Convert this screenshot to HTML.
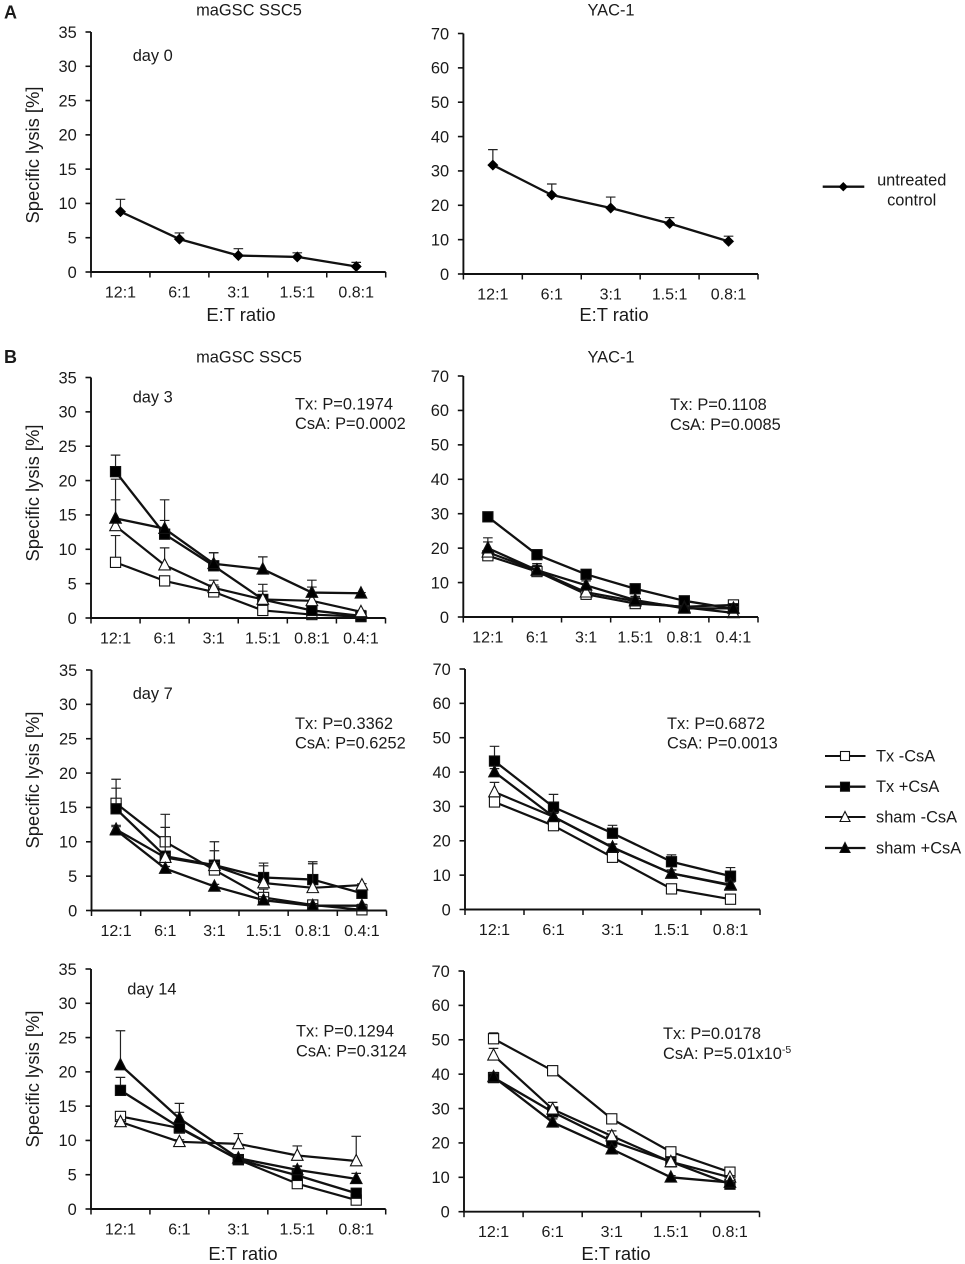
<!DOCTYPE html>
<html lang="en">
<head>
<meta charset="utf-8">
<title>Specific lysis by E:T ratio</title>
<style>
  html, body { margin: 0; padding: 0; background: #fff; }
  svg { display: block; filter: blur(0.35px); }
  text { font-family: "Liberation Sans", sans-serif; fill: #1a1a1a; }
  .label { font-size: 16.4px; }
  .title { font-size: 18.4px; }
  .letter { font-size: 18px; font-weight: bold; }
</style>
</head>
<body>
<svg id="figure" xmlns="http://www.w3.org/2000/svg" width="965" height="1264" viewBox="0 0 965 1264">
  <rect width="965" height="1264" fill="#fff"/>
  <text class="letter" x="4" y="18.5">A</text>
  <text class="letter" x="4" y="363">B</text>

  <text class="label" x="249" y="15.5" text-anchor="middle">maGSC SSC5</text>
  <text class="label" x="611" y="15.5" text-anchor="middle">YAC-1</text>
  <text class="label" x="249" y="362.5" text-anchor="middle">maGSC SSC5</text>
  <text class="label" x="611" y="362.5" text-anchor="middle">YAC-1</text>

  <text class="label" x="132.7" y="61">day 0</text>
  <text class="label" x="132.7" y="402.3">day 3</text>
  <text class="label" x="132.7" y="699">day 7</text>
  <text class="label" x="127.3" y="994.7">day 14</text>

  <text class="label" x="295" y="409.3">Tx: P=0.1974</text>
  <text class="label" x="295" y="429">CsA: P=0.0002</text>
  <text class="label" x="670" y="410">Tx: P=0.1108</text>
  <text class="label" x="670" y="430">CsA: P=0.0085</text>
  <text class="label" x="295" y="729">Tx: P=0.3362</text>
  <text class="label" x="295" y="748.7">CsA: P=0.6252</text>
  <text class="label" x="667" y="729">Tx: P=0.6872</text>
  <text class="label" x="667" y="748.7">CsA: P=0.0013</text>
  <text class="label" x="296" y="1036.7">Tx: P=0.1294</text>
  <text class="label" x="296" y="1056.7">CsA: P=0.3124</text>
  <text class="label" x="663" y="1039">Tx: P=0.0178</text>
  <text class="label" x="663" y="1059">CsA: P=5.01x10<tspan font-size="10.5" dy="-6">-5</tspan></text>

  <g>
    <line x1="822.7" y1="186.7" x2="864.3" y2="186.7" stroke="#111" stroke-width="2.3"/>
    <path d="M843.3 182 L848 186.7 L843.3 191.4 L838.6 186.7 Z" fill="#000"/>
    <text class="label" x="911.7" y="185.5" text-anchor="middle">untreated</text>
    <text class="label" x="911.7" y="205.5" text-anchor="middle">control</text>
  </g>
  <g>
    <line x1="825" y1="756" x2="865.5" y2="756" stroke="#111" stroke-width="2.1"/>
    <rect x="840.5" y="751.5" width="9" height="9" fill="#fff" stroke="#111" stroke-width="1.1"/>
    <text class="label" x="876" y="761.5">Tx -CsA</text>
  </g>
  <g>
    <line x1="825" y1="786.7" x2="865.5" y2="786.7" stroke="#111" stroke-width="2.3"/>
    <rect x="840.5" y="782.2" width="9" height="9" fill="#000" stroke="#111" stroke-width="1.1"/>
    <text class="label" x="876" y="792.2">Tx +CsA</text>
  </g>
  <g>
    <line x1="825" y1="817" x2="865.5" y2="817" stroke="#111" stroke-width="2.1"/>
    <path d="M845 811.5 L850 821.5 L840 821.5 Z" fill="#fff" stroke="#111" stroke-width="1.1"/>
    <text class="label" x="876" y="822.5">sham -CsA</text>
  </g>
  <g>
    <line x1="825" y1="848" x2="865.5" y2="848" stroke="#111" stroke-width="2.3"/>
    <path d="M845 842.5 L850 852.5 L840 852.5 Z" fill="#000" stroke="#111" stroke-width="1.1"/>
    <text class="label" x="876" y="853.5">sham +CsA</text>
  </g>
  <g id="panels"></g>
</svg>

<script>
// Categories and tick labels
const categories5 = ["12:1", "6:1", "3:1", "1.5:1", "0.8:1"];
const categories6 = ["12:1", "6:1", "3:1", "1.5:1", "0.8:1", "0.4:1"];
const ticksSsc = [0, 5, 10, 15, 20, 25, 30, 35];
const ticksYac = [0, 10, 20, 30, 40, 50, 60, 70];

// Day 0
const d0SscUntreated = [8.8, 4.8, 2.4, 2.2, 0.8];
const d0SscUntreatedErr = [1.8, 0.9, 1.0, 0.6, 0.6];
const d0YacUntreated = [31.7, 23, 19.2, 14.7, 9.5];
const d0YacUntreatedErr = [4.5, 3.2, 3.2, 1.7, 1.5];

// Day 3, maGSC SSC5
const d3SscTxNeg = [8.1, 5.4, 3.8, 1.1, 0.5, 0.2];
const d3SscTxNegErr = [3.9, 0.3, 1.0, 0.5, 0.3, 0.1];
const d3SscTxPos = [21.3, 12.2, 7.6, 2.7, 1.1, 0.3];
const d3SscTxPosErr = [2.4, 2.0, 1.9, 1.2, 0.5, 0.1];
const d3SscShamNeg = [13.4, 7.7, 4.4, 2.7, 2.5, 0.9];
const d3SscShamNegErr = [3.8, 2.5, 1.1, 2.2, 2.0, 0.2];
const d3SscShamPos = [14.5, 13, 7.9, 7.1, 3.7, 3.6];
const d3SscShamPosErr = [5.7, 4.2, 1.6, 1.8, 1.8, 0.1];

// Day 3, YAC-1
const d3YacTxNeg = [17.8, 13.2, 6.6, 3.9, 3, 3.5];
const d3YacTxNegErr = [1, 1, 0.5, 1, 0.5, 0.5];
const d3YacTxPos = [29.1, 18.1, 12.4, 8.2, 4.7, 2.4];
const d3YacTxPosErr = [0.3, 0.5, 0.5, 0.5, 0.5, 0.3];
const d3YacShamNeg = [18.8, 13.5, 7.2, 4.6, 2.8, 1.2];
const d3YacShamNegErr = [3, 1.5, 1, 1, 0.5, 0.3];
const d3YacShamPos = [20, 13.6, 9.2, 4.9, 2.5, 2.5];
const d3YacShamPosErr = [3, 1.9, 1.3, 1.1, 0.5, 0.5];

// Day 7, maGSC SSC5
const d7SscTxNeg = [15.6, 10, 5.9, 1.9, 0.8, 0.1];
const d7SscTxNegErr = [3.5, 4, 2.8, 1.2, 0.5, 0.2];
const d7SscTxPos = [14.8, 7.9, 6.6, 4.8, 4.5, 2.5];
const d7SscTxPosErr = [3, 4.2, 3.4, 2.1, 2.6, 0.3];
const d7SscShamNeg = [11.8, 7.7, 6.5, 4, 3.3, 3.7];
const d7SscShamNegErr = [0.6, 0.5, 0.5, 2.5, 3.5, 0.2];
const d7SscShamPos = [11.7, 6.1, 3.5, 1.5, 0.7, 0.7];
const d7SscShamPosErr = [0.5, 0.3, 0.3, 0.5, 0.3, 0.2];

// Day 7, YAC-1
const d7YacTxNeg = [31.3, 24.4, 15.2, 6, 3];
const d7YacTxNegErr = [1, 1, 0.8, 1, 0.5];
const d7YacTxPos = [43.2, 29.8, 22.2, 13.9, 9.7];
const d7YacTxPosErr = [4.3, 3.7, 2.3, 2, 2.5];
const d7YacShamNeg = [34.2, 27, 18, 10.5, 7];
const d7YacShamNegErr = [2.8, 1, 1, 1, 1];
const d7YacShamPos = [40, 27, 18.1, 10.5, 7.2];
const d7YacShamPosErr = [1, 1, 1, 1, 1];

// Day 14, maGSC SSC5
const d14SscTxNeg = [13.5, 11.8, 7.2, 3.7, 1.3];
const d14SscTxNegErr = [0.5, 0.5, 0.3, 0.3, 0.3];
const d14SscTxPos = [17.3, 11.9, 7.2, 4.9, 2.3];
const d14SscTxPosErr = [1.9, 2.2, 0.5, 1.3, 0.3];
const d14SscShamNeg = [12.7, 9.8, 9.5, 7.8, 7];
const d14SscShamNegErr = [0.3, 0.3, 1.5, 1.4, 3.6];
const d14SscShamPos = [21, 13.2, 7.4, 5.7, 4.4];
const d14SscShamPosErr = [5, 2.2, 0.3, 0.6, 0.8];

// Day 14, YAC-1
const d14YacTxNeg = [50.3, 41, 27, 17.4, 11.5];
const d14YacTxNegErr = [1.7, 1.2, 0.5, 0.5, 0.5];
const d14YacTxPos = [39, 29, 20.5, 14.5, 8];
const d14YacTxPosErr = [1.5, 1, 1, 0.7, 0.5];
const d14YacShamNeg = [45.5, 29.8, 22, 14.5, 10];
const d14YacShamNegErr = [2, 2, 1.5, 1, 0.5];
const d14YacShamPos = [39.2, 26, 18.2, 10, 8.5];
const d14YacShamPosErr = [1, 1, 0.5, 0.5, 0.5];

const SVG_NS = "http://www.w3.org/2000/svg";
const root = document.getElementById("panels");

function make(tag, attrs, parent) {
  const el = document.createElementNS(SVG_NS, tag);
  for (const k in attrs) el.setAttribute(k, attrs[k]);
  parent.appendChild(el);
  return el;
}

function fourSeries(a, aErr, b, bErr, c, cErr, d, dErr) {
  return [
    { key: "tx-minus-csa", marker: "square", fill: "#fff", width: 2.2, values: a, errors: aErr },
    { key: "tx-plus-csa", marker: "square", fill: "#000", width: 2.3, values: b, errors: bErr },
    { key: "sham-minus-csa", marker: "triangle", fill: "#fff", width: 2.2, values: c, errors: cErr },
    { key: "sham-plus-csa", marker: "triangle", fill: "#000", width: 2.3, values: d, errors: dErr }
  ];
}

function drawMarker(g, kind, fill, x, y) {
  const stroke = "#111";
  if (kind === "square") {
    return make("rect", { x: x - 5.1, y: y - 5.1, width: 10.2, height: 10.2, fill: fill, stroke: stroke, "stroke-width": 1.1 }, g);
  }
  if (kind === "triangle") {
    return make("path", { d: `M${x} ${y - 6.5} L${x + 5.8} ${y + 4.8} L${x - 5.8} ${y + 4.8} Z`, fill: fill, stroke: stroke, "stroke-width": 1.1 }, g);
  }
  return make("path", { d: `M${x} ${y - 5.3} L${x + 5.3} ${y} L${x} ${y + 5.3} L${x - 5.3} ${y} Z`, fill: fill, stroke: stroke, "stroke-width": 0.5 }, g);
}

function drawPanel(p) {
  const g = make("g", {}, root);
  
  

  const n = p.categories.length;
  const yMax = p.ticks[p.ticks.length - 1];
  const xScale = i => p.left + (i + 0.5) * (p.right - p.left) / n;
  const yScale = v => p.bottom - v * (p.bottom - p.top) / yMax;

  // Series
  p.series.forEach(s => {
    const sg = make("g", {}, g);
    
    
    s.values.forEach((v, i) => {
      const err = s.errors[i];
      if (err > 0) {
        const ex = xScale(i);
        const bar = make("path", {
          d: `M${ex} ${yScale(v)} V${yScale(v + err)} M${ex - 4.8} ${yScale(v + err)} H${ex + 4.8}`,
          fill: "none", stroke: "#222", "stroke-width": 1.2
        }, sg);
        
        
      }
    });
    const pts = s.values.map((v, i) => xScale(i) + "," + yScale(v)).join(" ");
    const line = make("polyline", { points: pts, fill: "none", stroke: "#111", "stroke-width": s.width, "stroke-linejoin": "round" }, sg);
    
    
    s.values.forEach((v, i) => {
      const mark = drawMarker(sg, s.marker, s.fill, xScale(i), yScale(v));
      
      
    });
  });

  // Y axis
  const yAxis = make("g", {}, g);
  
  
  make("line", { x1: p.left, y1: yScale(yMax), x2: p.left, y2: yScale(0), stroke: "#111", "stroke-width": 1.9 }, yAxis);
  p.ticks.forEach(t => {
    const y = yScale(t);
    make("line", { x1: p.left - 5.5, y1: y, x2: p.left, y2: y, stroke: "#111", "stroke-width": 1.6 }, yAxis);
    const tick = make("text", { class: "label", x: p.left - 14.3, y: y + 5.8, "text-anchor": "end" }, yAxis);
    tick.textContent = t;
    
    
  });

  // X axis
  const xAxis = make("g", {}, g);
  
  
  make("line", { x1: p.left - 1, y1: p.bottom, x2: p.right, y2: p.bottom, stroke: "#111", "stroke-width": 1.9 }, xAxis);
  for (let i = 0; i <= n; i++) {
    const tx = p.left + i * (p.right - p.left) / n;
    make("line", { x1: tx, y1: p.bottom, x2: tx, y2: p.bottom + 5.5, stroke: "#111", "stroke-width": 1.5 }, xAxis);
  }
  p.categories.forEach((c, i) => {
    const lab = make("text", { class: "label", x: xScale(i), y: p.bottom + 25.5, "text-anchor": "middle", style: "font-size:16px" }, xAxis);
    lab.textContent = c;
    
    
  });

  // Axis titles
  if (p.yTitleCenter) {
    const yt = make("text", { class: "title", "text-anchor": "middle", transform: `translate(39 ${p.yTitleCenter}) rotate(-90)` }, g);
    yt.textContent = "Specific lysis [%]";
    
    
  }
  if (p.xTitle) {
    const xt = make("text", { class: "title", "text-anchor": "middle", x: p.xTitle[0], y: p.xTitle[1] }, g);
    xt.textContent = "E:T ratio";
    
    
  }
}

const untreatedSsc = [{ key: "untreated", marker: "diamond", fill: "#000", width: 2.3, values: d0SscUntreated, errors: d0SscUntreatedErr }];
const untreatedYac = [{ key: "untreated", marker: "diamond", fill: "#000", width: 2.3, values: d0YacUntreated, errors: d0YacUntreatedErr }];

[
  { name: "chart-day0-ssc5", left: 91, right: 385.7, top: 32, bottom: 272, categories: categories5, ticks: ticksSsc, yTitleCenter: 155, xTitle: [241, 321], series: untreatedSsc },
  { name: "chart-day0-yac1", left: 463.4, right: 758, top: 33.5, bottom: 274, categories: categories5, ticks: ticksYac, xTitle: [614, 321], series: untreatedYac },
  { name: "chart-day3-ssc5", left: 91, right: 385.5, top: 377.5, bottom: 618, categories: categories6, ticks: ticksSsc, yTitleCenter: 493, series: fourSeries(d3SscTxNeg, d3SscTxNegErr, d3SscTxPos, d3SscTxPosErr, d3SscShamNeg, d3SscShamNegErr, d3SscShamPos, d3SscShamPosErr) },
  { name: "chart-day3-yac1", left: 463.3, right: 758, top: 376, bottom: 617, categories: categories6, ticks: ticksYac, series: fourSeries(d3YacTxNeg, d3YacTxNegErr, d3YacTxPos, d3YacTxPosErr, d3YacShamNeg, d3YacShamNegErr, d3YacShamPos, d3YacShamPosErr) },
  { name: "chart-day7-ssc5", left: 91.5, right: 386.5, top: 670, bottom: 910.5, categories: categories6, ticks: ticksSsc, yTitleCenter: 780, series: fourSeries(d7SscTxNeg, d7SscTxNegErr, d7SscTxPos, d7SscTxPosErr, d7SscShamNeg, d7SscShamNegErr, d7SscShamPos, d7SscShamPosErr) },
  { name: "chart-day7-yac1", left: 465, right: 760, top: 669, bottom: 909.5, categories: categories5, ticks: ticksYac, series: fourSeries(d7YacTxNeg, d7YacTxNegErr, d7YacTxPos, d7YacTxPosErr, d7YacShamNeg, d7YacShamNegErr, d7YacShamPos, d7YacShamPosErr) },
  { name: "chart-day14-ssc5", left: 91, right: 385.7, top: 969, bottom: 1209, categories: categories5, ticks: ticksSsc, yTitleCenter: 1079, xTitle: [243, 1260], series: fourSeries(d14SscTxNeg, d14SscTxNegErr, d14SscTxPos, d14SscTxPosErr, d14SscShamNeg, d14SscShamNegErr, d14SscShamPos, d14SscShamPosErr) },
  { name: "chart-day14-yac1", left: 464, right: 759.5, top: 971, bottom: 1211.7, categories: categories5, ticks: ticksYac, xTitle: [616, 1260], series: fourSeries(d14YacTxNeg, d14YacTxNegErr, d14YacTxPos, d14YacTxPosErr, d14YacShamNeg, d14YacShamNegErr, d14YacShamPos, d14YacShamPosErr) }
].forEach(drawPanel);
</script>
</body>
</html>
